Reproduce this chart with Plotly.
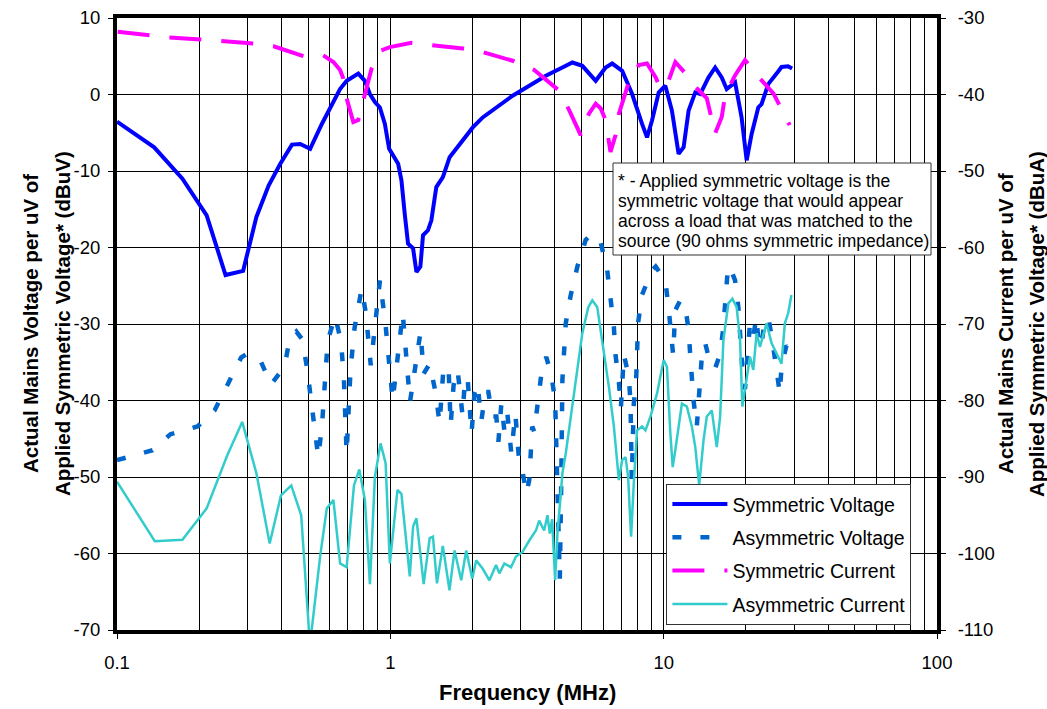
import plotly.graph_objects as go

# ---------------- data ----------------
# Symmetric Voltage (left axis, dBuV)
SV_FREQ = [0.1, 0.1368, 0.1735, 0.2128, 0.2495, 0.2894, 0.3236, 0.3587, 0.3958, 0.4366,
           0.468, 0.509, 0.5616, 0.602, 0.6547, 0.6924, 0.7634, 0.8073, 0.842, 0.878,
           0.9157, 0.955, 0.99, 1.068, 1.098, 1.129, 1.161, 1.211, 1.246, 1.288,
           1.317, 1.373, 1.413, 1.473, 1.557, 1.648, 1.842, 2.003, 2.178, 2.437,
           2.802, 3.223, 3.707, 4.261, 4.634, 5.04, 5.641, 6.133, 6.481, 7.05,
           7.666, 8.335, 8.693, 9.065, 9.59, 10.14, 10.72, 11.34, 11.83, 12.34,
           13.05, 13.61, 14.58, 15.43, 16.31, 17.01, 18.25, 19.28, 20.12, 20.98,
           22.19, 22.81, 24.13, 26.24, 27.0, 28.5, 29.5]
SV_DBUV = [-3.55, -6.9, -11.0, -15.8, -23.6, -23.05, -16.0, -11.9, -9.06, -6.55,
           -6.46, -7.1, -3.85, -1.7, 0.71, 1.79, 2.74, 1.79, 0.06, -1.0,
           -1.7, -3.85, -7.1, -9.06, -11.2, -15.6, -19.5, -20.1, -23.2, -22.5,
           -18.4, -17.75, -16.45, -12.1, -10.8, -8.2, -6.03, -4.3, -3.0, -1.69,
           -0.16, 1.14, 2.44, 3.53, 4.18, 3.75, 1.79, 3.53, 4.05, 3.1,
           0.06, -3.85, -5.6, -3.4, 0.27, 1.14, -2.1, -7.76, -6.9, -2.1,
           0.27, 0.06, 2.22, 3.53, 2.22, 0.71, 1.57, -3.0, -8.6, -5.15,
           -1.69, -1.25, 1.36, 3.0, 3.6, 3.7, 3.4]

# Asymmetric Voltage (left axis, dBuV)
AV_FREQ = [0.100, 0.135, 0.157, 0.197, 0.2275, 0.2545, 0.2845, 0.299, 0.333, 0.366,
           0.41, 0.428, 0.453, 0.476, 0.495, 0.511, 0.526, 0.545, 0.562, 0.575,
           0.590, 0.628, 0.660, 0.676, 0.692, 0.715, 0.740, 0.785, 0.814, 0.848,
           0.916, 0.960, 1.02, 1.11, 1.18, 1.29, 1.324, 1.393, 1.465, 1.514,
           1.566, 1.634, 1.662, 1.704, 1.762, 1.837, 1.868, 1.916, 1.982, 2.032,
           2.084, 2.154, 2.228, 2.284, 2.362, 2.443, 2.485, 2.548, 2.613, 2.680,
           2.771, 2.866, 2.964, 3.04, 3.144, 3.223, 3.305, 3.361, 3.446, 3.564,
           3.717, 3.876, 4.008, 4.076, 4.169, 4.215, 4.261, 4.384, 4.572, 4.833,
           5.186, 5.481, 5.88, 6.217, 6.393, 6.574, 6.668, 6.857, 6.973, 7.15,
           7.458, 7.565, 7.645, 7.775, 7.927, 7.99, 8.06, 8.33, 9.065, 9.35,
           10.14, 10.43, 10.72, 10.83, 11.03, 11.5, 12.0, 12.34, 12.51, 12.68,
           12.86, 13.22, 13.79, 14.19, 14.8, 15.43, 16.09, 16.54, 16.78, 17.15,
           17.4, 18.25, 18.76, 19.03, 19.56, 19.84, 20.69, 21.28, 21.88, 22.19,
           22.75, 23.33, 24.13, 24.95, 25.87, 26.61, 26.98, 28.12, 29.02]
AV_DBUV = [-47.8, -46.5, -44.4, -43.4, -41.3, -37.9, -34.4, -33.9, -34.6, -37.9,
           -35.6, -32.0, -31.0, -32.0, -35.6, -39.5, -43.0, -47.4, -43.4, -38.0,
           -32.2, -29.0, -32.3, -37.0, -46.9, -36.0, -30.5, -25.4, -28.6, -35.4,
           -24.3, -30.0, -40.0, -28.6, -40.2, -31.0, -36.5, -35.2, -39.0, -43.0,
           -35.6, -35.8, -43.2, -38.0, -36.0, -41.9, -38.2, -36.9, -44.3, -39.1,
           -37.8, -42.6, -38.9, -38.9, -42.1, -42.1, -45.4, -40.4, -43.9, -41.7,
           -46.9, -41.7, -48.2, -49.1, -52.2, -50.4, -43.4, -44.1, -40.4, -36.7,
           -34.3, -36.5, -40.0, -50.0, -63.3, -52.0, -37.3, -29.9, -26.2, -22.5,
           -19.0, -18.2, -19.3, -23.0, -26.7, -30.4, -34.1, -37.6, -41.0, -34.0,
           -36.9, -40.4, -50.4, -40.4, -37.6, -33.6, -29.9, -26.2, -23.0, -22.5,
           -24.3, -28.0, -32.1, -34.0, -28.2, -26.9, -27.8, -30.8, -34.1, -37.1,
           -40.0, -43.4, -34.3, -32.5, -35.2, -35.8, -33.9, -30.4, -26.7, -23.0,
           -22.4, -24.3, -27.8, -31.7, -37.8, -38.5, -29.9, -31.5, -29.1, -32.1,
           -33.0, -30.0, -29.1, -32.0, -36.0, -39.1, -35.6, -32.8, -33.5]

# Symmetric Current (right axis, dBuA)
SC_FREQ = [0.1006, 0.131, 0.155, 0.2023, 0.2427, 0.316, 0.374, 0.4813, 0.566, 0.619,
           0.655, 0.673, 0.692, 0.732, 0.763, 0.796, 0.854, 0.916, 0.996, 1.195,
           1.413, 1.842, 2.178, 2.84, 3.36, 4.15, 4.51, 4.97, 5.33, 5.64,
           5.88, 6.13, 6.39, 6.67, 6.86, 7.46, 8.11, 8.69, 9.33, 9.73,
           10.28, 11.03, 12.33, 13.05, 14.38, 15.42, 16.31, 16.78, 18.24, 19.84,
           22.5, 25.2, 28.9]
SC_DBUA = [-31.8, -32.25, -32.55, -32.8, -33.0, -33.35, -33.7, -35.0, -34.85, -35.75,
           -36.8, -37.9, -40.5, -43.6, -43.35, -40.75, -36.6, -34.3, -33.8, -33.25,
           -33.55, -34.0, -34.45, -35.65, -36.8, -39.5, -42.05, -45.3, -42.5, -41.2,
           -41.8, -43.35, -47.5, -45.3, -42.5, -38.35, -36.15, -35.95, -37.7, -39.2,
           -38.8, -35.75, -37.7, -39.0, -40.5, -45.1, -42.95, -40.1, -37.5, -35.5,
           -37.9, -39.85, -44.0]

# Asymmetric Current (right axis, dBuA)
AC_FREQ = [0.100, 0.1375, 0.1735, 0.2128, 0.253, 0.2871, 0.3236, 0.3619, 0.398, 0.434,
           0.472, 0.508, 0.5535, 0.5855, 0.619, 0.655, 0.692, 0.736, 0.77, 0.807,
           0.842, 0.878, 0.921, 0.961, 0.996, 1.062, 1.098, 1.178, 1.211, 1.246,
           1.324, 1.393, 1.432, 1.481, 1.556, 1.646, 1.718, 1.817, 1.895, 1.994,
           2.061, 2.178, 2.304, 2.437, 2.506, 2.613, 2.764, 2.882, 3.047, 3.223,
           3.409, 3.504, 3.654, 3.757, 3.833, 3.908, 4.008, 4.086, 4.204, 4.261,
           4.384, 4.572, 4.768, 5.04, 5.3, 5.481, 5.715, 5.96, 6.303, 6.574,
           6.857, 7.05, 7.254, 7.413, 7.6, 7.775, 7.993, 8.335, 8.577, 8.944,
           9.454, 10.0, 10.28, 10.58, 10.79, 11.03, 11.66, 12.16, 12.68, 13.05,
           13.49, 13.99, 14.38, 15.0, 15.64, 16.09, 16.54, 17.25, 17.84, 18.49,
           19.03, 19.4, 20.12, 20.69, 21.28, 21.88, 22.51, 23.79, 24.81, 26.24,
           26.98, 27.76, 28.54, 29.34]
AC_DBUA = [-90.6, -98.4, -98.2, -94.1, -87.2, -82.8, -89.5, -98.7, -92.4, -91.1,
           -95.0, -112.0, -100.4, -94.1, -93.0, -101.3, -101.8, -91.1, -89.0, -93.0,
           -104.0, -90.0, -85.6, -88.2, -101.3, -91.7, -92.2, -103.0, -96.5, -95.4,
           -104.0, -98.0, -97.8, -103.9, -99.0, -104.8, -99.6, -103.5, -99.6, -103.3,
           -100.9, -102.0, -103.5, -101.5, -102.6, -101.3, -101.8, -100.4, -99.8, -98.3,
           -97.0, -95.7, -97.0, -95.0, -97.4, -95.5, -103.5, -97.4, -92.2, -89.5,
           -86.9, -82.1, -76.9, -71.2, -67.8, -66.9, -67.8, -72.1, -78.2, -83.4,
           -90.4, -87.8, -87.4, -90.0, -97.8, -90.8, -83.9, -83.4, -83.9, -82.1,
           -79.1, -74.7, -75.6, -84.3, -88.7, -86.5, -80.4, -80.8, -83.4, -86.1,
           -91.1, -85.2, -82.1, -81.3, -86.1, -82.1, -72.1, -67.3, -66.7, -67.8,
           -72.1, -80.8, -77.3, -74.3, -76.0, -71.2, -73.0, -69.9, -72.5, -74.3,
           -75.2, -69.9, -68.6, -66.2]

X_TICKS = [0.1, 1, 10, 100]
X_TICK_TEXT = ["0.1", "1", "10", "100"]
Y1_TICKS = [10, 0, -10, -20, -30, -40, -50, -60, -70]
Y1_TICK_TEXT = ["10", "0", "-10", "-20", "-30", "-40", "-50", "-60", "-70"]
Y2_TICKS = [-30, -40, -50, -60, -70, -80, -90, -100, -110]
Y2_TICK_TEXT = ["-30", "-40", "-50", "-60", "-70", "-80", "-90", "-100", "-110"]

X_TITLE = "Frequency (MHz)"
Y1_TITLE = ["Actual Mains Voltage per uV of", "Applied Symmetric Voltage* (dBuV)"]
Y2_TITLE = ["Actual Mains Current per uV of", "Applied Symmetric Voltage* (dBuA)"]

NOTE_LINES = [
    "* - Applied symmetric voltage is the",
    "symmetric voltage that would appear",
    "across a load that was matched to the",
    "source (90 ohms symmetric impedance)",
]

# ---------------- figure ----------------
FONT = "Arial, 'Liberation Sans', sans-serif"

# plot-area geometry (pixels) used to place the text boxes in paper coordinates
L, R, T, B, W, H = 117, 110, 18, 79, 1047, 709
PW, PH = W - L - R, H - T - B


def px(x):
    return (x - L) / PW


def py(y):
    return (H - B - y) / PH


fig = go.Figure()
fig.add_trace(go.Scatter(x=SV_FREQ, y=SV_DBUV, name="Symmetric Voltage", mode="lines",
                         line=dict(color="#0000FF", width=4), legendgroup="a"))
fig.add_trace(go.Scatter(x=AV_FREQ, y=AV_DBUV, name="Asymmetric Voltage", mode="lines",
                         line=dict(color="#0066CC", width=4.5, dash="9px,19px"),
                         legendgroup="b"))
fig.add_trace(go.Scatter(x=SC_FREQ, y=SC_DBUA, name="Symmetric Current", mode="lines",
                         line=dict(color="#FF00FF", width=4, dash="32px,20px"),
                         yaxis="y2", legendgroup="c"))
fig.add_trace(go.Scatter(x=AC_FREQ, y=AC_DBUA, name="Asymmetric Current", mode="lines",
                         line=dict(color="#33CCCC", width=2.5),
                         yaxis="y2", legendgroup="d"))

minor_vals = [m * 10.0 ** e for e in (-1, 0, 1) for m in range(2, 10)]

ytitle_font = dict(family=FONT, size=20.5, weight="bold", color="black")
xtitle_font = dict(family=FONT, size=22, weight="bold", color="black")
note_font = dict(size=17.5, family=FONT, color="black")

annotations = []
# note box text, one line each
for i, line in enumerate(NOTE_LINES):
    annotations.append(dict(text=line, xref="paper", yref="paper",
                            x=px(616), y=py(181 + 20 * i), xanchor="left", yanchor="middle",
                            align="left", showarrow=False, font=note_font))
annotations.append(dict(text=X_TITLE, xref="paper", yref="paper", x=0.5, y=py(692),
                        xanchor="center", yanchor="middle", showarrow=False, font=xtitle_font))
for line, xpix in zip(Y1_TITLE, (30, 62)):
    annotations.append(dict(text=line, xref="paper", yref="paper", x=px(xpix), y=py(324),
                            xanchor="center", yanchor="middle", textangle=-90,
                            showarrow=False, font=ytitle_font))
for line, xpix in zip(Y2_TITLE, (1005, 1036)):
    annotations.append(dict(text=line, xref="paper", yref="paper", x=px(xpix), y=py(324),
                            xanchor="center", yanchor="middle", textangle=-90,
                            showarrow=False, font=ytitle_font))

fig.update_layout(
    width=W, height=H,
    margin=dict(l=L, r=R, t=T, b=B, autoexpand=False),
    paper_bgcolor="white", plot_bgcolor="white",
    font=dict(family=FONT, color="black", size=18),
    showlegend=True,
    xaxis=dict(
        type="log", range=[-1, 2], automargin=False,
        tickmode="array", tickvals=X_TICKS, ticktext=X_TICK_TEXT,
        showgrid=True, gridcolor="black", gridwidth=1,
        minor=dict(tickmode="array", tickvals=minor_vals, showgrid=True,
                   gridcolor="black", gridwidth=1, ticks=""),
        showline=True, linecolor="black", linewidth=4, mirror=True,
        ticks="outside", ticklen=5, tickwidth=1, tickcolor="black",
        tickfont=dict(size=18.5), ticklabelstandoff=8,
        zeroline=False,
    ),
    yaxis=dict(
        range=[-70, 10], automargin=False,
        tickmode="array", tickvals=Y1_TICKS, ticktext=Y1_TICK_TEXT,
        showgrid=True, gridcolor="black", gridwidth=1, zeroline=False,
        showline=True, linecolor="black", linewidth=4,
        ticks="outside", ticklen=5, tickwidth=1, tickcolor="black",
        tickfont=dict(size=18.5), ticklabelstandoff=4,
    ),
    yaxis2=dict(
        range=[-110, -30], automargin=False,
        tickmode="array", tickvals=Y2_TICKS, ticktext=Y2_TICK_TEXT,
        overlaying="y", side="right",
        showgrid=False, zeroline=False,
        showline=True, linecolor="black", linewidth=4,
        ticks="outside", ticklen=5, tickwidth=1, tickcolor="black",
        tickfont=dict(size=18.5), ticklabelstandoff=8,
    ),
    legend=dict(
        x=0.670, y=0.239, xanchor="left", yanchor="top",
        bgcolor="white", bordercolor="#333333", borderwidth=1,
        font=dict(size=19.5, family=FONT, color="black"),
        tracegroupgap=5, itemwidth=55,
    ),
    shapes=[dict(type="rect", xref="paper", yref="paper", layer="above",
                 x0=px(613), x1=px(931), y0=py(255), y1=py(163),
                 fillcolor="white", line=dict(color="#333333", width=1))],
    annotations=annotations,
)

fig.write_html("out.html", config={"displayModeBar": False},
               post_script="document.body.style.margin='0px';document.body.style.padding='0px';")
